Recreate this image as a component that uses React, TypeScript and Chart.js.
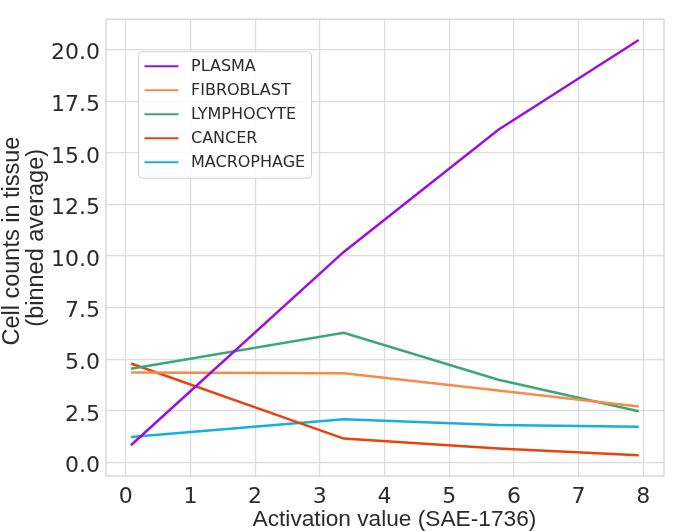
import { useEffect, useRef } from "react"
import { Chart, registerables } from "chart.js"

Chart.register(...registerables)

// bin centres on the x axis
const activation = [0.08, 3.37, 5.76, 7.93]

const cellTypes = ["PLASMA", "FIBROBLAST", "LYMPHOCYTE", "CANCER", "MACROPHAGE"]
const plasma = [0.84, 10.2, 16.12, 20.46]
const fibroblast = [4.36, 4.33, 3.49, 2.72]
const lymphocyte = [4.54, 6.28, 4.01, 2.49]
const cancer = [4.8, 1.16, 0.68, 0.35]
const macrophage = [1.24, 2.1, 1.82, 1.74]
const colors = ["#9b10e0", "#f68b4c", "#3aa876", "#e8430f", "#16afe2"]

const xTicks = [0, 1, 2, 3, 4, 5, 6, 7, 8]
const yTicks = [0, 2.5, 5, 7.5, 10, 12.5, 15, 17.5, 20]

const textColor = "#2b2b2b"
const gridColor = "#dcdcdc"

// light frame round the plot area
const framePlugin = {
  id: "frame",
  beforeDatasetsDraw(chart: any) {
    const { ctx, chartArea } = chart
    ctx.save()
    ctx.strokeStyle = "#d4d4d4"
    ctx.lineWidth = 1.3
    ctx.strokeRect(chartArea.left, chartArea.top, chartArea.right - chartArea.left, chartArea.bottom - chartArea.top)
    ctx.restore()
  },
}

// legend box in the upper left of the plot
const legendPlugin = {
  id: "boxLegend",
  afterDraw(chart: any) {
    const { ctx, chartArea } = chart
    const x = chartArea.left + 32.5
    const y = chartArea.top + 32.5
    const w = 173
    const h = 126.5
    ctx.save()
    ctx.beginPath()
    ctx.roundRect(x, y, w, h, 4)
    ctx.fillStyle = "rgba(255,255,255,0.85)"
    ctx.fill()
    ctx.strokeStyle = "#cfcfcf"
    ctx.lineWidth = 1
    ctx.stroke()
    ctx.font = "16px 'DejaVu Sans'"
    ctx.textBaseline = "middle"
    chart.data.datasets.forEach((ds: any, i: number) => {
      const ry = y + 14.5 + i * 24
      ctx.strokeStyle = ds.borderColor
      ctx.lineWidth = 2
      ctx.beginPath()
      ctx.moveTo(x + 6, ry)
      ctx.lineTo(x + 40, ry)
      ctx.stroke()
      ctx.fillStyle = textColor
      ctx.fillText(ds.label, x + 52.5, ry + 0.5)
    })
    ctx.restore()
  },
}

export default function App() {
  const canvasRef = useRef<HTMLCanvasElement>(null)
  const chartRef = useRef<Chart | null>(null)

  useEffect(() => {
    document.body.style.margin = "0"
    if (!canvasRef.current) return

    if (chartRef.current) {
      chartRef.current.destroy()
    }

    const ctx = canvasRef.current.getContext("2d")
    if (!ctx) return

    const series = [plasma, fibroblast, lymphocyte, cancer, macrophage]

    chartRef.current = new Chart(ctx, {
      type: "line",
      data: {
        datasets: series.map((values, i) => ({
          label: cellTypes[i],
          data: activation.map((x, j) => ({ x, y: values[j] })),
          borderColor: colors[i],
          backgroundColor: colors[i],
          borderWidth: 2.5,
          pointRadius: 0,
          tension: 0,
          fill: false,
        })),
      },
      options: {
        animation: false,
        responsive: true,
        maintainAspectRatio: false,
        layout: {
          padding: { top: 15, right: 16, left: 0, bottom: 0 },
        },
        plugins: {
          legend: { display: false },
          tooltip: { enabled: false },
        },
        scales: {
          x: {
            type: "linear",
            min: -0.305,
            max: 8.32,
            afterBuildTicks: (scale: any) => {
              scale.ticks = xTicks.map((v) => ({ value: v }))
            },
            afterFit: (scale: any) => {
              scale.height = 55
            },
            grid: { color: gridColor, lineWidth: 1.2, drawTicks: false },
            border: { display: false },
            ticks: {
              autoSkip: false,
              maxRotation: 0,
              padding: 8,
              color: textColor,
              font: { family: "'DejaVu Sans'", size: 22 },
              callback: (v: any) => String(v),
            },
            title: {
              display: true,
              // leading spaces nudge the label right, as in the original
              text: "   Activation value (SAE-1736)",
              color: textColor,
              font: { family: "'Liberation Sans'", size: 22.7, lineHeight: 0.87 },
              padding: { top: 0, bottom: 1 },
            },
          },
          y: {
            type: "linear",
            min: -0.65,
            max: 21.47,
            afterBuildTicks: (scale: any) => {
              scale.ticks = yTicks.map((v) => ({ value: v }))
            },
            afterFit: (scale: any) => {
              scale.width = 106
            },
            grid: { color: gridColor, lineWidth: 1.2, drawTicks: false },
            border: { display: false },
            ticks: {
              autoSkip: false,
              padding: 6,
              labelOffset: 4,
              color: textColor,
              font: { family: "'DejaVu Sans'", size: 22 },
              callback: (v: any) => Number(v).toFixed(1),
            },
            title: {
              display: true,
              text: ["  Cell counts in tissue", "   (binned average)"],
              color: textColor,
              font: { family: "'Liberation Sans'", size: 23.5, lineHeight: 1.0 },
              padding: { top: 1, bottom: 0 },
            },
          },
        },
      },
      plugins: [framePlugin, legendPlugin],
    })

    return () => {
      if (chartRef.current) {
        chartRef.current.destroy()
      }
    }
  }, [])

  return (
    <div style={{ width: "680px", height: "531px" }}>
      <canvas ref={canvasRef}></canvas>
    </div>
  )
}
